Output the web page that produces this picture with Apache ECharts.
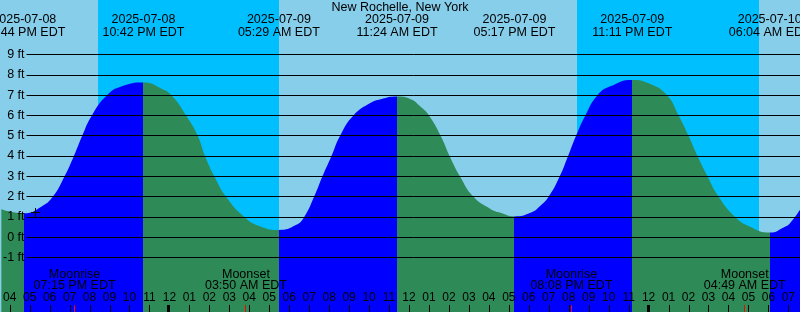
<!DOCTYPE html>
<html><head><meta charset="utf-8">
<script src="https://cdn.jsdelivr.net/npm/echarts@6/dist/echarts.min.js"></script>
<style>html,body{margin:0;padding:0;background:#87CEEB;overflow:hidden}#c{width:800px;height:312px}</style>
</head><body><div id="c"></div>
<script>
const stationName = 'New Rochelle, New York';
// tide curve (local time EDT, feet)
const tideTimes = [
 '2025-07-08 15:35','2025-07-08 16:05','2025-07-08 16:44','2025-07-08 17:35','2025-07-08 18:10','2025-07-08 18:45',
 '2025-07-08 19:13','2025-07-08 19:38','2025-07-08 20:07','2025-07-08 20:53','2025-07-08 21:35','2025-07-08 22:42',
 '2025-07-08 23:35','2025-07-09 00:07','2025-07-09 00:50','2025-07-09 01:25','2025-07-09 01:47','2025-07-09 02:15',
 '2025-07-09 02:50','2025-07-09 03:45','2025-07-09 04:35','2025-07-09 05:29','2025-07-09 06:20','2025-07-09 06:45',
 '2025-07-09 07:15','2025-07-09 07:40','2025-07-09 08:07','2025-07-09 08:33','2025-07-09 09:13','2025-07-09 10:05',
 '2025-07-09 10:35','2025-07-09 11:24','2025-07-09 12:05','2025-07-09 12:35','2025-07-09 13:00','2025-07-09 13:35',
 '2025-07-09 14:02','2025-07-09 14:33','2025-07-09 15:13','2025-07-09 16:05','2025-07-09 16:35','2025-07-09 17:17',
 '2025-07-09 18:05','2025-07-09 18:35','2025-07-09 19:00','2025-07-09 19:33','2025-07-09 19:58','2025-07-09 20:22',
 '2025-07-09 20:50','2025-07-09 21:27','2025-07-09 22:05','2025-07-09 23:11','2025-07-10 00:05','2025-07-10 00:55',
 '2025-07-10 01:30','2025-07-10 02:00','2025-07-10 02:27','2025-07-10 02:57','2025-07-10 03:30','2025-07-10 04:20',
 '2025-07-10 05:05','2025-07-10 06:04','2025-07-10 06:50','2025-07-10 07:05','2025-07-10 07:35'
];
const tideHeights = [
 1.38,1.25,1.18,1.5,2.0,3.0,
 4.0,5.0,6.0,7.0,7.42,7.62,
 7.33,6.98,6.0,5.0,4.0,3.0,
 2.0,1.0,0.52,0.36,0.6,1.0,
 2.0,3.0,4.0,5.0,6.0,6.62,
 6.8,6.93,6.8,6.43,6.0,5.0,
 4.0,3.0,2.0,1.39,1.2,1.02,
 1.2,1.55,2.0,3.0,4.0,5.0,
 6.0,7.0,7.43,7.75,7.55,7.0,
 6.0,5.0,4.0,3.0,2.0,1.0,
 0.52,0.23,0.52,0.69,1.35
];
const extremeTimes = ['2025-07-08 16:44','2025-07-08 22:42','2025-07-09 05:29','2025-07-09 11:24','2025-07-09 17:17','2025-07-09 23:11','2025-07-10 06:04'];
const extremeKinds = ['low','high','low','high','low','high','low'];
const nightStarts = ['2025-07-08 20:26','2025-07-09 20:26'];
const nightEnds = ['2025-07-09 05:29','2025-07-10 05:32'];
const moonTimes = ['2025-07-08 19:15','2025-07-09 03:50','2025-07-09 20:08','2025-07-10 04:49'];
const moonEvents = ['Moonrise','Moonset','Moonrise','Moonset'];
const midnights = ['2025-07-09 00:00','2025-07-10 00:00'];
const nowTime = '2025-07-08 17:17';
const nowHeight = 1.25;
const viewStart = '2025-07-08 15:35';
const viewHours = 40;
const yTickMin = -1, yTickMax = 9;

const FONT = '"Liberation Sans", Arial, sans-serif';
function toH(s){
  const d = parseInt(s.slice(8,10),10) - 8;
  return d*24 + parseInt(s.slice(11,13),10) + parseInt(s.slice(14,16),10)/60;
}
function fmt12(s){
  let h = parseInt(s.slice(11,13),10); const m = s.slice(14,16);
  const ap = h >= 12 ? 'PM' : 'AM'; h = h % 12; if (h === 0) h = 12;
  return (h<10?'0':'') + h + ':' + m + ' ' + ap + ' EDT';
}
const xMin = toH(viewStart), xMax = xMin + viewHours;
const hourTicks = [];
for (let h = Math.ceil(xMin); h <= Math.floor(xMax); h++) hourTicks.push(h);

// colour pieces: rising after low (blue), falling after high (green)
const BLUE = '#0000FF', GREEN = '#2E8B57';
const pieces = [];
const ex = extremeTimes.map(toH);
pieces.push({lt: ex[0], color: extremeKinds[0]==='low' ? GREEN : BLUE});
for (let i = 0; i < ex.length; i++) {
  const col = extremeKinds[i]==='low' ? BLUE : GREEN;
  if (i < ex.length-1) pieces.push({gte: ex[i], lt: ex[i+1], color: col});
  else pieces.push({gte: ex[i], color: col});
}

function txt(text, x, y, size){
  return {type:'text', style:{text:text, x:x, y:y, align:'center', verticalAlign:'middle',
    textAlign:'center', textVerticalAlign:'middle', fill:'#000', font: size+'px '+FONT}};
}

const chart = echarts.init(document.getElementById('c'), null, {renderer:'canvas'});
chart.setOption({
  animation: false,
  backgroundColor: '#87CEEB',
  title: {text: stationName, left: 'center', top: 1.4, padding: 0,
    textStyle: {fontSize: 12.5, fontWeight: 'normal', color: '#000', fontFamily: FONT}},
  grid: [
    {left: 0, right: 0, top: 0, bottom: 0},
    {left: 26, right: 0, top: 54.5, height: 203}
  ],
  xAxis: [
    {type:'value', gridIndex:0, min:xMin, max:xMax, position:'bottom',
     axisLine:{show:false, onZero:false}, splitLine:{show:false}, axisTick:{show:false},
     axisLabel:{show:true, inside:true, margin:8, customValues: hourTicks, color:'#000', fontSize:12, fontFamily:FONT,
       formatter: v => { let h = Math.round(v) % 12; if (h===0) h = 12; return (h<10?'0':'')+h; }},
     z: 5},
    {type:'value', gridIndex:1, min:0, max:1, show:false}
  ],
  yAxis: [
    {type:'value', gridIndex:0, min:-3.685, max:11.685, show:false},
    {type:'value', gridIndex:1, min:yTickMin, max:yTickMax, interval:1, z:4,
     axisLine:{show:false}, axisTick:{show:false},
     splitLine:{show:true, lineStyle:{color:'#000', width:1}},
     axisLabel:{show:true, margin:2, color:'#000', fontSize:12.5, fontFamily:FONT, formatter:'{value} ft'}}
  ],
  visualMap: [{type:'piecewise', show:false, dimension:0, seriesIndex:1, pieces: pieces}],
  series: [
    {type:'custom', name:'night', z:1, silent:true, xAxisIndex:0, yAxisIndex:0,
     data: nightStarts.map((s,i)=>[toH(s), toH(nightEnds[i])]),
     encode:{x:[0,1]},
     renderItem:(p, api)=>{
       const a = api.coord([api.value(0), 11.685]);
       const b = api.coord([api.value(1), -3.685]);
       return {type:'rect', shape:{x:Math.round(a[0]), y:0, width:Math.round(b[0])-Math.round(a[0]), height:312}, style:{fill:'#00BFFF'}};
     }},
    {type:'line', name:'tide', z:2, silent:true, xAxisIndex:0, yAxisIndex:0,
     data: tideTimes.map((t,i)=>[toH(t), tideHeights[i]]),
     showSymbol:false, symbol:'none', smooth:0.5,
     lineStyle:{width:0}, areaStyle:{opacity:1, origin:'start'}},
    {type:'custom', name:'hourTicks', z:6, silent:true, xAxisIndex:0, yAxisIndex:0,
     data: hourTicks.map(h=>[h, 0]),
     renderItem:(p, api)=>{
       const x = api.coord([api.value(0), 0])[0];
       return {type:'rect', shape:{x:Math.round(x), y:305, width:1, height:7}, style:{fill:'#000'}};
     }},
    {type:'custom', name:'extremes', z:6, silent:true, xAxisIndex:0, yAxisIndex:0,
     data: extremeTimes.map(t=>[toH(t), 0]),
     renderItem:(p, api)=>{
       const x = api.coord([api.value(0), 0])[0];
       const s = extremeTimes[p.dataIndex];
       return {type:'group', children:[txt(s.slice(0,10), x, 20, 12.5), txt(fmt12(s), x, 32.4, 12.5)]};
     }},
    {type:'custom', name:'moon', z:7, silent:true, xAxisIndex:0, yAxisIndex:0,
     data: moonTimes.map(t=>[toH(t), 0]),
     renderItem:(p, api)=>{
       const x = api.coord([api.value(0), 0])[0];
       const s = moonTimes[p.dataIndex];
       return {type:'group', children:[
         {type:'rect', shape:{x:Math.floor(x), y:305, width:1, height:7}, style:{fill:'#FF0000'}},
         txt(moonEvents[p.dataIndex], x, 274.5, 12.5), txt(fmt12(s), x, 285.7, 12.5)]};
     }},
    {type:'custom', name:'midnight', z:7, silent:true, xAxisIndex:0, yAxisIndex:0,
     data: midnights.map(t=>[toH(t), 0]),
     renderItem:(p, api)=>{
       const x = api.coord([api.value(0), 0])[0];
       return {type:'rect', shape:{x:Math.round(x)-2, y:305, width:3, height:7}, style:{fill:'#000'}};
     }},
    {type:'custom', name:'now', z:7, silent:true, xAxisIndex:0, yAxisIndex:0,
     data: [[toH(nowTime), nowHeight]],
     renderItem:(p, api)=>{
       const c = api.coord([api.value(0), api.value(1)]);
       const cx = Math.round(c[0])+0.5, cy = Math.round(c[1])+0.5;
       const st = {stroke:'#000', lineWidth:1, fill:null};
       return {type:'group', children:[
         {type:'line', shape:{x1:cx-4.5, y1:cy, x2:cx+4.5, y2:cy}, style:st},
         {type:'line', shape:{x1:cx, y1:cy-4.5, x2:cx, y2:cy+4.5}, style:st}]};
     }}
  ]
});
</script></body></html>
